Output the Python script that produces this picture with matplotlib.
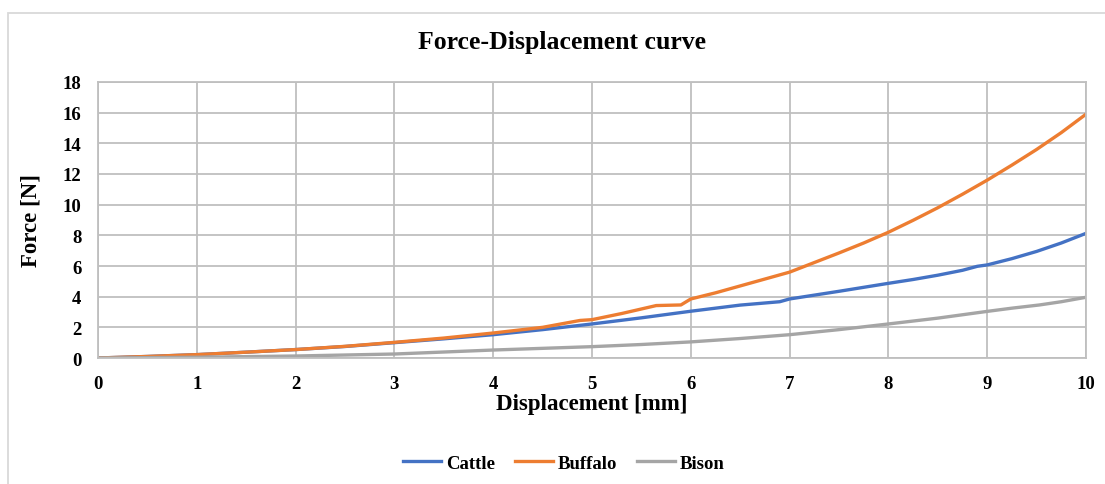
import matplotlib
matplotlib.use("Agg")
import matplotlib.pyplot as plt
from matplotlib.patches import Rectangle

plt.rcParams['font.family'] = ['Liberation Serif', 'DejaVu Serif']
plt.rcParams['font.weight'] = 'bold'

# data
cattle_x = [0, 0.5, 1, 1.5, 2, 2.5, 3, 3.5, 4, 4.5, 5, 5.5, 6, 6.5, 6.9, 7, 7.5, 8, 8.25, 8.5, 8.75, 8.9, 9, 9.25, 9.5, 9.75, 10]
cattle_y = [0, 0.1, 0.22, 0.38, 0.55, 0.75, 1.0, 1.25, 1.52, 1.85, 2.22, 2.62, 3.05, 3.45, 3.67, 3.85, 4.35, 4.87, 5.12, 5.4, 5.72, 5.98, 6.07, 6.48, 6.95, 7.5, 8.13]

buffalo_x = [0, 0.5, 1, 1.5, 2, 2.5, 3, 3.5, 4, 4.5, 4.88, 5, 5.3, 5.65, 5.9, 6, 6.25, 6.5, 6.75, 7, 7.16, 7.5, 7.75, 8, 8.25, 8.5, 8.75, 9, 9.25, 9.5, 9.75, 10]
buffalo_y = [0, 0.1, 0.22, 0.38, 0.55, 0.76, 1.02, 1.3, 1.63, 2.0, 2.45, 2.5, 2.9, 3.42, 3.46, 3.85, 4.25, 4.7, 5.15, 5.6, 6.0, 6.85, 7.5, 8.2, 8.98, 9.8, 10.68, 11.6, 12.58, 13.6, 14.7, 15.9]

bison_x = [0, 1, 2, 3, 4, 5, 5.5, 6, 6.5, 7, 7.5, 8, 8.5, 9, 9.25, 9.53, 9.75, 10]
bison_y = [0, 0.05, 0.13, 0.26, 0.52, 0.74, 0.88, 1.05, 1.27, 1.52, 1.85, 2.22, 2.6, 3.04, 3.25, 3.46, 3.67, 3.96]

fig = plt.figure(figsize=(11.05, 4.85), dpi=100)
ax = fig.add_axes([98 / 1105, 1 - 359 / 485, 988 / 1105, 276 / 485])

ax.plot(cattle_x, cattle_y, color='#4472C4', lw=2.4, label='Cattle')
ax.plot(buffalo_x, buffalo_y, color='#ED7D31', lw=2.4, label='Buffalo')
ax.plot(bison_x, bison_y, color='#A5A5A5', lw=2.4, label='Bison')

ax.set_xlim(0, 10)
ax.set_ylim(0, 18)
ax.set_xticks(range(0, 11))
ax.set_yticks(range(0, 19, 2))
ax.grid(True, color='#BFBFBF', lw=1.3)
ax.set_axisbelow(True)
for s in ax.spines.values():
    s.set_color('#BFBFBF')
    s.set_linewidth(1.3)
ax.tick_params(length=0, labelsize=13.5, pad=12)
for lab in ax.get_xticklabels() + ax.get_yticklabels():
    lab.set_fontweight('bold')

ax.set_xlabel('Displacement [mm]', fontsize=16.5, fontweight='bold')
ax.set_ylabel('Force [N]', fontsize=16.5, fontweight='bold')
ax.xaxis.set_label_coords(0.5, -0.128)
ax.yaxis.set_label_coords(-0.057, 0.5)
fig.text(562 / 1105, 1 - 43 / 485, 'Force-Displacement curve', fontsize=18.5,
         fontweight='bold', ha='center', va='center')

fig.legend(loc='center', bbox_to_anchor=(564 / 1105, 1 - 464 / 485), ncol=3,
           frameon=False, prop={'size': 13.5, 'weight': 'bold'},
           handlelength=2.0, columnspacing=1.07, handletextpad=0.27)

fig.patches.append(Rectangle((8 / 1105, -0.1), 1.2, 1 - 14 / 485 + 0.1,
                             transform=fig.transFigure, fill=False,
                             edgecolor='#D9D9D9', lw=1.3))

fig.savefig('out.png', dpi=100)
